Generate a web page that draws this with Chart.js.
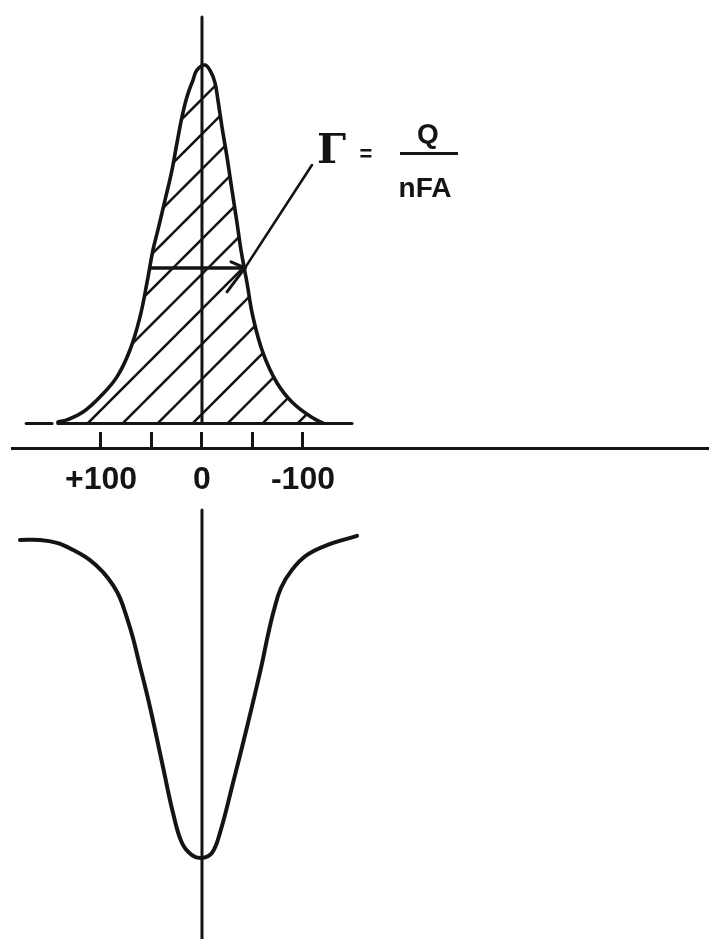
<!DOCTYPE html>
<html>
<head>
<meta charset="utf-8">
<script src="https://cdn.jsdelivr.net/npm/chart.js@4/dist/chart.umd.min.js"></script>
<style>
  html, body { margin: 0; padding: 0; background: #fff; }
  canvas { display: block; }
</style>
</head>
<body>
<canvas id="cv" width="709" height="939"></canvas>
<script>
// Potential axis, mV relative to E°' (positive to the left)
const potentialTicks = [100, 50, 0, -50, -100];
const tickLabels = ['+100', '', '0', '', '-100'];

// Oxidation wave of the adsorbed layer, normalised current i / ip
const anodicE = [142.6, 133.7, 117.8, 101.0, 84.2, 71.3, 61.4, 54.5, 48.5, 43.6, 36.6, 29.7, 24.8, 19.8, 14.9, 8.9, 5.0, -3.0, -8.9, -12.9, -15.8, -19.8, -24.8, -29.7, -34.7, -38.6, -44.6, -50.5, -60.4, -74.3, -90.1, -109.9, -119.8];
const anodicI = [0.004, 0.010, 0.032, 0.074, 0.130, 0.205, 0.297, 0.392, 0.484, 0.540, 0.623, 0.707, 0.782, 0.855, 0.911, 0.958, 0.986, 1.000, 0.980, 0.950, 0.902, 0.827, 0.743, 0.651, 0.559, 0.484, 0.392, 0.297, 0.197, 0.113, 0.057, 0.015, 0.001];

// Reduction wave, normalised current i / ip
const cathodicE = [180.2, 160.4, 143.6, 127.7, 110.9, 98.0, 88.1, 81.2, 74.3, 68.3, 63.4, 51.5, 38.6, 28.7, 19.8, 9.9, 0, -9.9, -17.8, -30.7, -44.6, -58.4, -65.3, -71.3, -78.2, -89.1, -104.0, -123.8, -153.5];
const cathodicI = [0.000, 0.000, -0.009, -0.031, -0.063, -0.101, -0.142, -0.182, -0.245, -0.308, -0.371, -0.525, -0.714, -0.858, -0.953, -0.991, -1.000, -0.984, -0.921, -0.764, -0.588, -0.403, -0.299, -0.220, -0.151, -0.094, -0.047, -0.016, 0.013];

// Zero-current baseline under the oxidation wave, and the short lead-in dash
const baselineE = [142.6, -148.5];
const leadInE = [174.0, 148.5];

// Width at half height (FWHM bar) and the pointer from the coverage formula
const halfHeight = 0.434;
const fwhmE = [51.5, -42.6];
const pointerE = [-108.9, -42.6];
const pointerI = [0.721, 0.434];

// Current axes drawn through E = 0
const upperAxisI = [1.134, 0];
const lowerAxisI = [0.094, -1.3];

const INK = '#141414';
const AXIS_LEVEL = -0.0711; // potential axis, in upper-panel current units

const pts = (xs, ys) => xs.map((x, i) => ({ x, y: Array.isArray(ys) ? ys[i] : ys }));

// Diagonal hatching for the charge area
function makeHatch() {
  const s = 35;
  const c = document.createElement('canvas');
  c.width = s; c.height = s;
  const g = c.getContext('2d');
  g.strokeStyle = INK;
  g.lineWidth = 2.6;
  g.lineCap = 'butt';
  [21 - s, 21, 21 + s].forEach(k => {
    g.beginPath();
    g.moveTo(k + 60, -60);
    g.lineTo(k - 60, 60);
    g.stroke();
  });
  return g.createPattern(c, 'repeat');
}

const line = (data, axis, width, extra) => Object.assign({
  data, yAxisID: axis, showLine: true, borderColor: INK, borderWidth: width,
  pointRadius: 0, fill: false, borderCapStyle: 'round', borderJoinStyle: 'round'
}, extra || {});

const notes = {
  id: 'notes',
  afterDraw(chart) {
    const { ctx, scales } = chart;
    const x = scales.x, y = scales.yTop;
    ctx.save();
    ctx.strokeStyle = INK;
    ctx.fillStyle = INK;
    ctx.lineCap = 'round';

    // arrowhead where the pointer meets the FWHM bar
    const tx = x.getPixelForValue(fwhmE[1]);
    const ty = y.getPixelForValue(halfHeight);
    ctx.lineWidth = 3;
    ctx.beginPath();
    ctx.moveTo(tx - 14, ty - 6); ctx.lineTo(tx, ty);
    ctx.lineTo(tx - 18, ty + 24);
    ctx.stroke();

    // Γ = Q / nFA
    const ax = x.getPixelForValue(pointerE[0]);
    const ay = y.getPixelForValue(pointerI[0]);
    ctx.textBaseline = 'alphabetic';
    ctx.textAlign = 'left';
    ctx.font = 'bold 41px "DejaVu Serif"';
    ctx.fillText('\u0393', ax + 5, ay - 2);
    ctx.font = 'bold 22px "Liberation Sans"';
    ctx.textAlign = 'center';
    ctx.fillText('=', ax + 54, ay - 4);
    ctx.font = 'bold 28px "Liberation Sans"';
    ctx.fillText('Q', ax + 116, ay - 22);
    ctx.fillRect(ax + 88, ay - 13, 58, 3);
    ctx.fillText('nFA', ax + 113, ay + 32);
    ctx.restore();
  }
};

new Chart(document.getElementById('cv'), {
  type: 'scatter',
  data: {
    datasets: [
      line(pts(fwhmE, halfHeight), 'yTop', 3.5),
      line(pts(pointerE, pointerI), 'yTop', 2.6),
      line(pts(anodicE, anodicI), 'yTop', 3.6, {
        fill: 'origin', backgroundColor: makeHatch(), tension: 0.4
      }),
      line(pts(baselineE, 0), 'yTop', 3.2),
      line(pts(leadInE, 0), 'yTop', 3.2),
      line(pts([0, 0], upperAxisI), 'yTop', 3),
      line(pts(cathodicE, cathodicI), 'yBot', 4, { tension: 0.4 }),
      line(pts([0, 0], lowerAxisI), 'yBot', 3)
    ]
  },
  options: {
    responsive: false,
    animation: false,
    devicePixelRatio: 1,
    layout: { padding: { left: 12, right: 0, top: 0, bottom: 0 } },
    plugins: { legend: { display: false }, tooltip: { enabled: false } },
    scales: {
      x: {
        type: 'linear', min: -502, max: 188.1, reverse: true,
        position: { yTop: AXIS_LEVEL },
        afterBuildTicks: s => { s.ticks = potentialTicks.map(v => ({ value: v })); },
        ticks: {
          autoSkip: false, maxRotation: 0, padding: 30, color: INK,
          font: { family: 'Liberation Sans', size: 32, weight: 'bold' },
          callback: v => tickLabels[potentialTicks.indexOf(v)]
        },
        grid: { drawOnChartArea: false, drawTicks: true, tickLength: -18, tickWidth: 3, tickColor: INK },
        border: { display: true, width: 3, color: INK }
      },
      yTop: { type: 'linear', display: false, min: -1.438, max: 1.1813 },
      yBot: { type: 'linear', display: false, min: -1.2547, max: 1.698 }
    }
  },
  plugins: [notes]
});
</script>
</body>
</html>
